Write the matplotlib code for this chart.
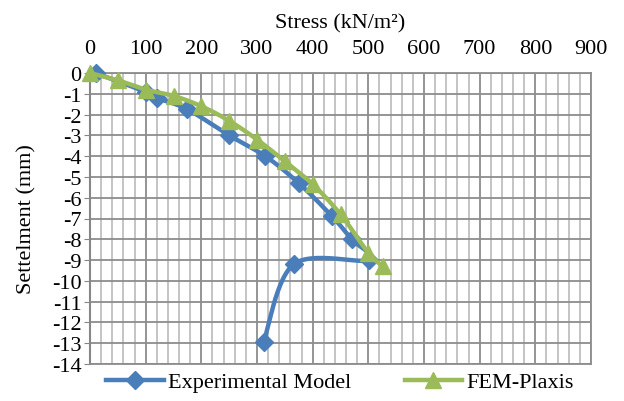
import numpy as np
import matplotlib
matplotlib.use("Agg")
import matplotlib.pyplot as plt
from matplotlib.ticker import MultipleLocator

exp_stress = [10, 100, 120, 175, 250, 315, 375, 435, 470, 502, 366, 312]
exp_settle = [0, -0.9, -1.2, -1.75, -3.0, -4.0, -5.3, -6.9, -8.0, -9.0, -9.2, -12.95]
fem_stress = [0, 50, 100, 150, 200, 250, 300, 350, 400, 450, 500, 526]
fem_settle = [0, -0.35, -0.8, -1.1, -1.6, -2.3, -3.2, -4.25, -5.35, -6.8, -8.65, -9.3]

x_ticks = list(range(0, 1000, 100))
y_ticks = list(range(0, -15, -1))

BLUE = "#4A7EBB"
GREEN = "#9BBB59"


def smooth(xs, ys, n=30):
    p = np.column_stack([xs, ys]).astype(float)
    pts = np.vstack([p[0], p, p[-1]])
    out = []
    for i in range(1, len(pts) - 2):
        p0, p1, p2, p3 = pts[i - 1], pts[i], pts[i + 1], pts[i + 2]
        c1 = p1 + (p2 - p0) / 6.0
        c2 = p2 - (p3 - p1) / 6.0
        t = np.linspace(0, 1, n)[:, None]
        seg = ((1 - t) ** 3) * p1 + 3 * ((1 - t) ** 2) * t * c1 + 3 * (1 - t) * t ** 2 * c2 + t ** 3 * p2
        out.append(seg if i == 1 else seg[1:])
    s = np.vstack(out)
    return s[:, 0], s[:, 1]


plt.rcParams['font.family'] = 'serif'
plt.rcParams['font.serif'] = ['Liberation Serif', 'DejaVu Serif']
FS = 16
fig = plt.figure(figsize=(6.24, 4.02), dpi=100)
ax = fig.add_axes([90 / 624, 1 - 365 / 402, 501 / 624, 291 / 402])

ax.set_xlim(0, 900)
ax.set_ylim(-14, 0)
ax.xaxis.set_minor_locator(MultipleLocator(20))
ax.set_xticks(x_ticks)
ax.set_yticks(y_ticks)
ax.set_yticklabels([str(v) for v in y_ticks])
ax.xaxis.tick_top()
ax.xaxis.set_label_position('top')
ax.tick_params(axis='x', which='both', length=0, labelsize=FS, pad=11)
ax.tick_params(axis='y', which='both', length=4, color='#868686', labelsize=FS, pad=2)

ax.grid(which='major', color='#8c8c8c', linewidth=1.3)
ax.grid(which='minor', axis='x', color='#bfbfbf', linewidth=1.3)
ax.set_axisbelow(True)
for s in ['top', 'right', 'bottom']:
    ax.spines[s].set_color('#8c8c8c')
    ax.spines[s].set_linewidth(1.3)
ax.spines['left'].set_color('#868686')
ax.spines['left'].set_linewidth(1.5)

ax.set_xlabel('Stress (kN/m\u00b2)', fontsize=FS, labelpad=8)
ax.set_ylabel('Settelment (mm)', fontsize=FS, labelpad=11)

sx, sy = smooth(exp_stress, exp_settle)
ax.plot(sx, sy, color=BLUE, lw=3.2, zorder=3, clip_on=False)
ax.plot(exp_stress, exp_settle, ls='none', marker='D', ms=9, color=BLUE, zorder=4, clip_on=False)
fx, fy = smooth(fem_stress, fem_settle)
ax.plot(fx, fy, color=GREEN, lw=3.2, zorder=5, clip_on=False)
ax.plot(fem_stress, fem_settle, ls='none', marker='^', ms=12, color=GREEN, zorder=6, clip_on=False)

h1, = ax.plot([], [], color=BLUE, lw=3.2, marker='D', ms=9)
h2, = ax.plot([], [], color=GREEN, lw=3.2, marker='^', ms=12)
fig.legend([h1, h2], ['Experimental Model', 'FEM-Plaxis'], loc='center',
           bbox_to_anchor=(340 / 624, 1 - 383 / 402), ncol=2, frameon=False,
           fontsize=FS, handlelength=2.6, columnspacing=2.4, handletextpad=0.2,
           borderaxespad=0)

fig.savefig('out.png', dpi=100)
